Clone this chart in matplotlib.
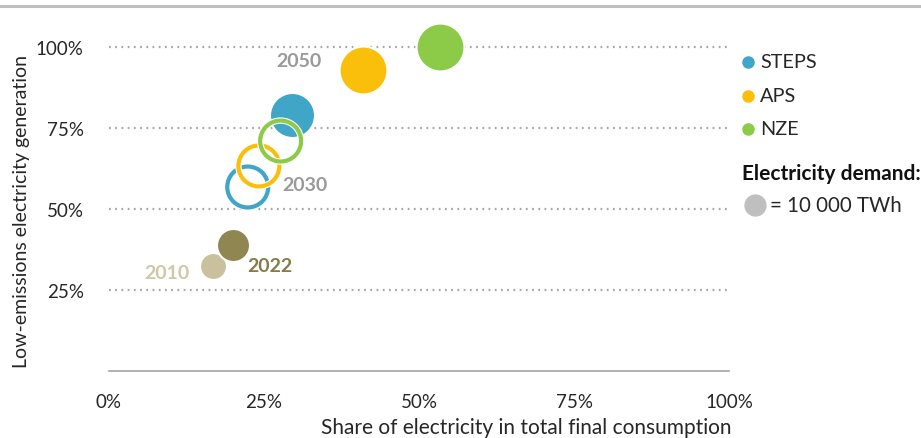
import matplotlib as mpl
mpl.use('Agg')
import matplotlib.pyplot as plt
from matplotlib.lines import Line2D

plt.rcParams['font.family'] = ['Lato', 'DejaVu Sans']

# historical points: share of electricity in TFC (%), low-emissions share (%), demand (thousand TWh)
hist_years = ["2010", "2022"]
hist_share = [16.8, 20.0]
hist_lowem = [32.4, 38.9]
hist_demand = [16.5, 24.7]
hist_colors = ["#C9C19D", "#8F8651"]

scenarios = ["STEPS", "APS", "NZE"]
scen_colors = ["#3FA6C8", "#FABF0A", "#8CCB48"]
share_2030 = [22.4, 24.2, 27.7]
lowem_2030 = [56.8, 63.3, 71.0]
demand_2030 = [38.0, 38.0, 38.0]
share_2050 = [29.5, 41.0, 53.4]
lowem_2050 = [79.0, 92.9, 100.0]
demand_2050 = [46.0, 52.0, 52.0]

ticks = [0, 25, 50, 75, 100]
tick_labels = ["0%", "25%", "50%", "75%", "100%"]

def msize(v):
    # 10 000 TWh -> ~21 px bubble
    return (0.72 * 21) ** 2 * v / 10.0

fig = plt.figure(figsize=(9.21, 4.39), dpi=100)
ax = fig.add_axes([0.118, 0.153, 0.674, 0.811])
ax.set_xlim(0, 100)
ax.set_ylim(0, 110)

for y in [25, 50, 75, 100]:
    ax.axhline(y, color="#A6A6A6", lw=1.6, ls=(0, (0.8, 2.0)), zorder=1)

# historical bubbles
for i in range(len(hist_years)):
    ax.scatter(hist_share[i], hist_lowem[i], s=msize(hist_demand[i]), color=hist_colors[i],
               edgecolors="white", linewidths=1.5, zorder=3 + i)

# 2050 filled bubbles (STEPS sits behind the 2030 rings)
z2050 = [4, 12, 12]
for i in range(3):
    ax.scatter(share_2050[i], lowem_2050[i], s=msize(demand_2050[i]), color=scen_colors[i],
               edgecolors="white", linewidths=1.5, zorder=z2050[i], clip_on=False)

# 2030 rings
for i in range(3):
    ax.scatter(share_2030[i], lowem_2030[i], s=msize(demand_2030[i]), facecolors="none",
               edgecolors="white", linewidths=4.6, zorder=6 + 2 * i)
    ax.scatter(share_2030[i], lowem_2030[i], s=msize(demand_2030[i]), facecolors="none",
               edgecolors=scen_colors[i], linewidths=3.0, zorder=7 + 2 * i)

# year labels
lbl = dict(fontsize=14, fontweight="bold", va="center")
ax.text(5.8, 30.5, "2010", color="#CFC7A6", **lbl)
ax.text(22.4, 32.5, "2022", color="#857C48", **lbl)
ax.text(28.0, 57.5, "2030", color="#9A9A9A", **lbl)
ax.text(27.0, 96.0, "2050", color="#9A9A9A", **lbl)

ax.set_xticks(ticks)
ax.set_xticklabels(tick_labels)
ax.set_yticks(ticks[1:])
ax.set_yticklabels(tick_labels[1:])
ax.tick_params(axis="x", length=0, pad=16, labelsize=13.5, labelcolor="#262626")
ax.tick_params(axis="y", length=0, pad=18, labelsize=13.5, labelcolor="#262626")
for s in ["top", "right", "left"]:
    ax.spines[s].set_visible(False)
ax.spines["bottom"].set_color("#A6A6A6")
ax.spines["bottom"].set_linewidth(1.2)

fig.text(731 / 921, 1 - 428 / 439, "Share of electricity in total final consumption",
         ha="right", va="center", fontsize=15, color="#262626")
fig.text(22 / 921, 1 - 211 / 439, "Low-emissions electricity generation",
         rotation=90, ha="center", va="center", fontsize=14, color="#262626")

# top rule
fig.add_artist(Line2D([0, 1], [1 - 7 / 439, 1 - 7 / 439], color="#BFBFBF", lw=2.2,
                      transform=fig.transFigure))

# legend
leg_y = [63, 97, 130]
for i in range(3):
    fig.add_artist(Line2D([748 / 921], [1 - leg_y[i] / 439], marker="o", ms=8, ls="none",
                          color=scen_colors[i], transform=fig.transFigure))
    fig.text(760 / 921, 1 - leg_y[i] / 439, scenarios[i], ha="left", va="center",
             fontsize=14.3, color="#262626")
fig.text(742 / 921, 1 - 174 / 439, "Electricity demand:", ha="left", va="center",
         fontsize=15, fontweight="bold", color="#111111")
fig.add_artist(Line2D([755 / 921], [1 - 206 / 439], marker="o", ms=15, ls="none",
                      color="#BFBFBF", transform=fig.transFigure))
fig.text(770 / 921, 1 - 206 / 439, "= 10 000 TWh", ha="left", va="center",
         fontsize=14.8, color="#262626")

fig.savefig("out.png", dpi=100)
